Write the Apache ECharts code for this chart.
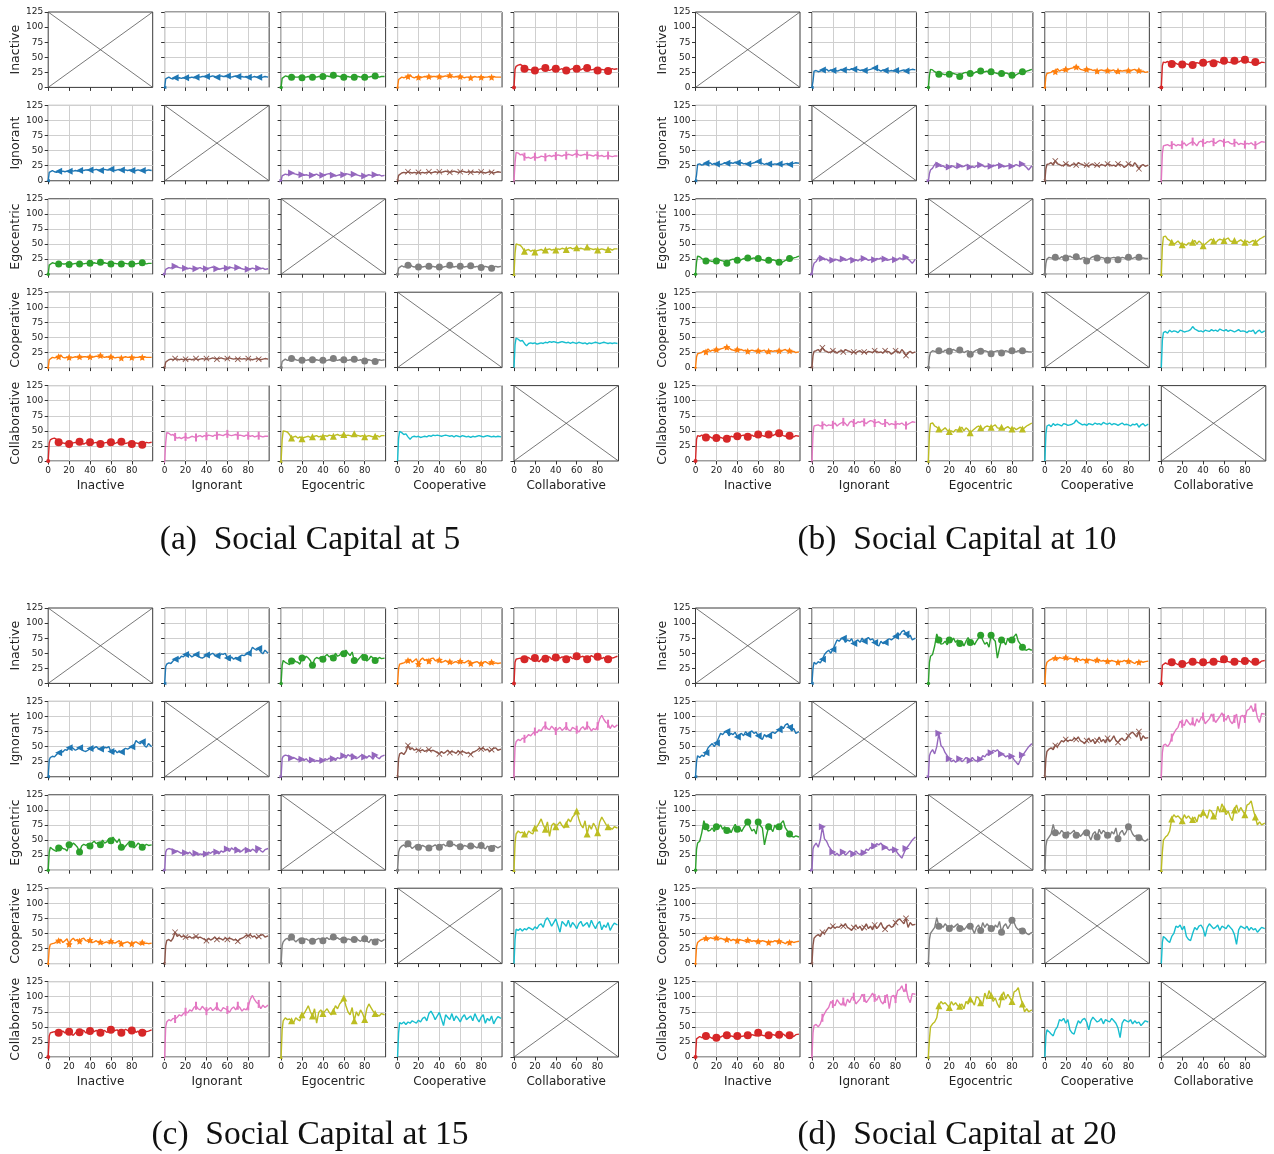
<!DOCTYPE html>
<html>
<head>
<meta charset="utf-8">
<script src="https://cdn.jsdelivr.net/npm/echarts@6/dist/echarts.min.js"></script>
<style>
  html, body { margin: 0; padding: 0; background: #fff; }
  #chart { width: 1274px; height: 1154px; }
</style>
</head>
<body>
<div id="chart"></div>
<script>
// roles on both axes of every 5x5 panel
const roles = ["Inactive", "Ignorant", "Egocentric", "Cooperative", "Collaborative"];
const captions = ["(a)  Social Capital at 5", "(b)  Social Capital at 10", "(c)  Social Capital at 15", "(d)  Social Capital at 20"];

// time steps the values were read at
const steps = [0, 1, 2, 4, 6, 8, 10, 12, 14, 16,
	18, 20, 22, 24, 26, 28, 30, 32, 34, 36,
	38, 40, 42, 44, 46, 48, 50, 52, 54, 56,
	58, 60, 62, 64, 66, 68, 70, 72, 74, 76,
	78, 80, 82, 84, 86, 88, 90, 92, 94, 96,
	99];
const xTicks = [0, 20, 40, 60, 80];

// ---- social capital 5 ----
const sc5_in_ig = [0, 14, 16, 17, 15, 14, 16, 15, 16, 15,
	16, 16, 17, 16, 17, 16, 17, 18, 17, 18,
	18, 18, 17, 18, 19, 18, 17, 18, 19, 18,
	18, 19, 18, 17, 18, 19, 18, 17, 18, 17,
	18, 17, 16, 17, 18, 17, 17, 16, 17, 18,
	17];
const sc5_in_eg = [0, 15, 18, 19, 18, 17, 17, 18, 17, 17,
	18, 16, 17, 17, 18, 17, 17, 18, 17, 18,
	18, 18, 18, 19, 18, 18, 20, 18, 19, 18,
	18, 17, 18, 18, 17, 18, 17, 18, 18, 17,
	18, 17, 18, 17, 18, 18, 19, 18, 17, 18,
	18];
const sc5_in_co = [0, 13, 16, 17, 16, 17, 18, 21, 17, 16,
	17, 17, 16, 17, 18, 17, 18, 17, 18, 18,
	17, 18, 17, 18, 19, 18, 20, 18, 17, 18,
	17, 18, 17, 16, 17, 17, 16, 17, 18, 17,
	17, 17, 16, 17, 17, 18, 17, 18, 17, 17,
	17];
const sc5_in_cl = [0, 30, 35, 37, 38, 36, 31, 29, 30, 29,
	30, 28, 29, 30, 31, 29, 32, 30, 28, 30,
	31, 31, 29, 30, 31, 28, 28, 29, 30, 31,
	30, 31, 30, 29, 31, 30, 32, 31, 29, 30,
	30, 28, 29, 30, 29, 30, 27, 29, 31, 30,
	31];
const sc5_ig_eg = [0, 8, 10, 11, 10, 12, 13, 12, 11, 10,
	11, 10, 9, 10, 9, 8, 9, 10, 11, 9,
	8, 9, 10, 11, 12, 10, 9, 8, 9, 10,
	9, 10, 12, 11, 10, 9, 11, 10, 9, 8,
	9, 8, 9, 10, 9, 8, 10, 9, 10, 8,
	9];
const sc5_ig_co = [0, 9, 12, 13, 14, 13, 15, 14, 13, 14,
	13, 14, 13, 14, 13, 14, 15, 13, 14, 15,
	14, 15, 14, 15, 16, 15, 14, 15, 16, 15,
	14, 15, 16, 15, 14, 15, 14, 15, 14, 15,
	14, 15, 14, 13, 14, 15, 14, 13, 14, 15,
	14];
const sc5_ig_cl = [0, 30, 47, 46, 43, 44, 40, 38, 39, 37,
	39, 40, 38, 39, 41, 40, 39, 41, 42, 40,
	42, 41, 43, 42, 41, 43, 42, 44, 43, 42,
	44, 45, 43, 42, 43, 44, 42, 43, 42, 41,
	43, 42, 41, 42, 40, 41, 42, 41, 40, 41,
	41];
const sc5_eg_co = [0, 10, 13, 14, 12, 13, 15, 16, 13, 12,
	13, 12, 13, 12, 13, 12, 13, 12, 13, 12,
	13, 12, 11, 12, 13, 12, 15, 13, 12, 13,
	12, 13, 13, 12, 13, 12, 14, 13, 12, 13,
	12, 11, 12, 13, 12, 11, 10, 12, 13, 12,
	13];
const sc5_eg_cl = [0, 35, 50, 49, 48, 44, 38, 40, 41, 38,
	40, 37, 39, 40, 41, 39, 40, 41, 42, 40,
	41, 40, 42, 41, 43, 42, 41, 43, 44, 42,
	43, 44, 42, 43, 42, 41, 45, 43, 42, 41,
	42, 40, 41, 42, 41, 40, 41, 42, 40, 42,
	42];
const sc5_co_cl = [0, 38, 49, 47, 44, 45, 40, 36, 40, 41,
	40, 41, 39, 40, 41, 40, 42, 41, 43, 42,
	43, 42, 41, 42, 43, 42, 41, 42, 40, 42,
	41, 40, 42, 41, 40, 41, 39, 41, 40, 41,
	42, 41, 40, 41, 42, 41, 40, 41, 40, 41,
	40];

// ---- social capital 10 ----
const sc10_in_ig = [0, 10, 27, 28, 26, 27, 29, 28, 30, 27,
	29, 28, 29, 27, 28, 30, 29, 28, 30, 29,
	31, 30, 29, 30, 28, 29, 28, 27, 29, 30,
	31, 32, 30, 29, 27, 29, 28, 29, 27, 28,
	27, 28, 26, 27, 28, 29, 27, 28, 29, 30,
	29];
const sc10_in_eg = [0, 20, 30, 29, 26, 24, 22, 23, 22, 21,
	23, 22, 24, 23, 22, 21, 18, 22, 24, 25,
	24, 23, 22, 24, 26, 25, 27, 25, 26, 27,
	25, 26, 25, 24, 23, 22, 23, 22, 24, 23,
	21, 20, 18, 21, 23, 24, 26, 25, 27, 28,
	30];
const sc10_in_co = [0, 18, 23, 24, 25, 28, 26, 31, 27, 29,
	28, 30, 29, 31, 32, 33, 34, 33, 30, 29,
	28, 30, 29, 30, 28, 29, 27, 28, 29, 28,
	27, 28, 27, 28, 29, 24, 27, 28, 27, 28,
	27, 28, 27, 29, 30, 27, 28, 26, 27, 25,
	26];
const sc10_in_cl = [0, 36, 42, 41, 43, 40, 39, 41, 40, 38,
	39, 38, 40, 39, 38, 36, 37, 39, 41, 40,
	42, 41, 40, 42, 43, 41, 40, 42, 43, 41,
	42, 44, 43, 42, 41, 43, 44, 43, 42, 44,
	45, 46, 44, 42, 41, 43, 42, 41, 40, 42,
	41];
const sc10_ig_eg = [0, 12, 18, 21, 27, 30, 26, 24, 25, 22,
	24, 23, 25, 24, 22, 24, 25, 23, 24, 26,
	25, 23, 24, 22, 25, 24, 26, 25, 23, 24,
	25, 24, 26, 25, 27, 24, 25, 23, 24, 25,
	26, 24, 25, 27, 25, 26, 28, 25, 22, 18,
	25];
const sc10_ig_co = [0, 20, 27, 28, 30, 26, 33, 28, 27, 25,
	26, 28, 27, 24, 27, 28, 26, 30, 28, 27,
	25, 26, 24, 27, 28, 25, 26, 24, 27, 26,
	25, 28, 27, 25, 26, 24, 28, 27, 26, 22,
	25, 28, 27, 24, 30, 26, 20, 25, 27, 24,
	26];
const sc10_ig_cl = [0, 45, 58, 59, 60, 58, 59, 61, 58, 60,
	59, 60, 63, 58, 61, 63, 65, 62, 58, 64,
	66, 63, 62, 65, 64, 66, 64, 62, 65, 67,
	66, 63, 64, 65, 62, 61, 63, 64, 60, 62,
	61, 60, 62, 61, 63, 60, 59, 61, 63, 65,
	64];
const sc10_eg_co = [0, 18, 25, 28, 27, 26, 28, 27, 26, 29,
	28, 27, 29, 30, 28, 27, 29, 28, 25, 27,
	28, 22, 24, 27, 29, 30, 27, 26, 28, 27,
	25, 23, 26, 27, 28, 27, 24, 26, 28, 27,
	25, 28, 27, 26, 28, 27, 28, 26, 27, 26,
	26];
const sc10_eg_cl = [0, 45, 62, 63, 58, 56, 53, 50, 52, 55,
	51, 49, 50, 48, 52, 51, 53, 56, 50, 55,
	52, 47, 50, 53, 56, 58, 55, 52, 56, 58,
	57, 56, 58, 60, 55, 54, 56, 52, 55, 57,
	54, 53, 55, 52, 54, 56, 53, 55, 58, 60,
	63];
const sc10_co_cl = [0, 45, 58, 60, 57, 62, 59, 61, 60, 58,
	62, 61, 59, 60, 61, 63, 68, 64, 62, 60,
	61, 59, 62, 61, 60, 63, 61, 62, 60, 64,
	62, 61, 63, 60, 62, 61, 59, 61, 63, 60,
	61, 60, 58, 61, 60, 62, 56, 60, 62, 58,
	61];

// ---- social capital 15 ----
const sc15_in_ig = [0, 28, 32, 34, 33, 37, 40, 43, 41, 45,
	44, 48, 50, 47, 44, 46, 48, 45, 43, 42,
	44, 47, 45, 48, 50, 47, 46, 44, 49, 48,
	50, 42, 38, 44, 40, 43, 41, 45, 47, 46,
	48, 50, 52, 60, 57, 55, 58, 52, 49, 55,
	50];
const sc15_in_eg = [0, 30, 38, 35, 33, 31, 37, 40, 36, 35,
	32, 42, 40, 45, 42, 38, 30, 40, 43, 41,
	44, 40, 45, 48, 44, 46, 42, 50, 45, 47,
	52, 49, 55, 50, 46, 52, 38, 36, 40, 44,
	48, 43, 37, 40, 45, 42, 38, 40, 43, 41,
	42];
const sc15_in_co = [0, 25, 32, 33, 34, 36, 38, 40, 35, 38,
	41, 32, 39, 42, 38, 40, 37, 41, 42, 38,
	37, 39, 35, 36, 38, 35, 36, 33, 35, 36,
	34, 37, 35, 34, 36, 38, 33, 34, 35, 36,
	34, 33, 35, 36, 34, 32, 35, 33, 34, 33,
	34];
const sc15_in_cl = [0, 35, 40, 41, 42, 41, 40, 42, 43, 40,
	41, 42, 38, 36, 40, 42, 41, 43, 44, 40,
	41, 43, 45, 42, 44, 43, 40, 42, 44, 41,
	42, 45, 43, 44, 45, 42, 40, 43, 46, 44,
	43, 44, 45, 41, 43, 38, 40, 44, 42, 43,
	45];
const sc15_ig_eg = [0, 30, 34, 36, 35, 33, 31, 32, 30, 28,
	31, 29, 27, 30, 26, 24, 28, 25, 27, 26,
	29, 27, 30, 28, 31, 29, 30, 27, 32, 30,
	33, 35, 31, 37, 34, 38, 33, 30, 32, 35,
	36, 33, 31, 35, 33, 29, 36, 32, 30, 34,
	36];
const sc15_ig_co = [0, 30, 38, 40, 37, 42, 52, 45, 48, 44,
	46, 44, 43, 45, 42, 44, 45, 43, 44, 42,
	40, 38, 42, 39, 41, 44, 40, 42, 41, 39,
	43, 40, 42, 41, 39, 40, 37, 41, 42, 44,
	47, 46, 48, 44, 46, 42, 45, 47, 48, 44,
	46];
const sc15_ig_cl = [0, 50, 58, 62, 60, 64, 63, 66, 70, 68,
	72, 75, 73, 78, 76, 82, 85, 80, 78, 84,
	80, 76, 79, 82, 77, 80, 84, 78, 76, 82,
	80, 78, 74, 80, 83, 78, 85, 82, 76, 80,
	78, 84, 96, 102, 95, 90, 88, 80, 86, 82,
	86];
const sc15_eg_co = [0, 30, 36, 40, 42, 38, 44, 40, 36, 39,
	42, 38, 40, 41, 39, 38, 37, 39, 40, 42,
	39, 38, 41, 43, 40, 42, 44, 41, 43, 40,
	42, 39, 38, 41, 40, 38, 40, 42, 39, 37,
	40, 41, 38, 35, 40, 38, 36, 41, 39, 37,
	40];
const sc15_eg_cl = [0, 45, 60, 65, 62, 63, 60, 57, 65, 62,
	60, 70, 72, 78, 85, 75, 68, 80, 56, 74,
	78, 72, 76, 80, 74, 70, 76, 85, 80, 88,
	92, 98, 85, 75, 70, 82, 60, 75, 68, 78,
	72, 62, 80, 88, 82, 76, 72, 70, 68, 72,
	70];
const sc15_co_cl = [0, 40, 57, 55, 58, 54, 58, 56, 60, 58,
	56, 61, 58, 64, 66, 60, 72, 76, 70, 62,
	68, 74, 63, 52, 70, 66, 62, 72, 60, 68,
	64, 58, 66, 70, 62, 65, 68, 60, 72, 64,
	58, 66, 70, 56, 64, 60, 68, 55, 62, 67,
	64];

// ---- social capital 20 ----
const sc20_in_ig = [0, 25, 35, 32, 36, 34, 40, 48, 52, 55,
	50, 56, 64, 72, 70, 74, 75, 68, 72, 70,
	74, 66, 70, 72, 68, 75, 70, 74, 76, 72,
	74, 68, 64, 62, 70, 66, 68, 72, 74, 72,
	75, 78, 84, 80, 86, 88, 82, 76, 80, 72,
	75];
const sc20_in_eg = [0, 35, 45, 48, 62, 82, 72, 65, 66, 70,
	64, 72, 70, 75, 68, 72, 66, 70, 62, 70,
	76, 68, 72, 64, 70, 75, 80, 72, 65, 68,
	60, 80, 74, 70, 42, 58, 72, 70, 64, 75,
	68, 72, 78, 82, 70, 65, 60, 56, 55, 57,
	55];
const sc20_in_co = [0, 28, 35, 38, 40, 41, 42, 40, 43, 42,
	41, 43, 40, 42, 41, 39, 40, 41, 38, 40,
	39, 38, 40, 39, 38, 37, 39, 38, 37, 38,
	36, 37, 36, 38, 37, 36, 35, 37, 36, 38,
	36, 37, 36, 35, 33, 36, 35, 37, 35, 36,
	37];
const sc20_in_cl = [0, 30, 33, 34, 32, 33, 35, 34, 33, 31,
	33, 32, 34, 33, 35, 34, 36, 33, 35, 34,
	33, 35, 36, 34, 35, 34, 36, 35, 37, 36,
	35, 40, 37, 36, 35, 37, 36, 38, 37, 36,
	35, 37, 36, 38, 35, 34, 36, 35, 34, 37,
	38];
const sc20_ig_eg = [0, 35, 40, 45, 38, 50, 72, 52, 48, 40,
	35, 30, 25, 28, 24, 27, 30, 25, 28, 32,
	30, 27, 32, 28, 26, 30, 29, 35, 33, 38,
	36, 40, 44, 42, 45, 40, 38, 36, 33, 35,
	30, 34, 28, 24, 20, 28, 36, 40, 45, 50,
	55];
const sc20_ig_co = [0, 30, 42, 46, 48, 45, 52, 50, 55, 60,
	58, 62, 59, 61, 60, 64, 62, 66, 60, 58,
	55, 60, 64, 58, 62, 55, 60, 66, 58, 62,
	56, 64, 58, 62, 68, 60, 57, 62, 64, 60,
	62, 68, 72, 74, 70, 66, 75, 60, 68, 64,
	65];
const sc20_ig_cl = [0, 40, 52, 54, 50, 55, 65, 72, 78, 82,
	92, 88, 85, 95, 90, 86, 92, 84, 96, 90,
	98, 100, 88, 92, 96, 104, 98, 90, 95, 100,
	106, 98, 94, 102, 92, 88, 96, 104, 80, 100,
	102, 96, 110, 112, 118, 108, 115, 98, 90, 105,
	104];
const sc20_eg_co = [0, 40, 50, 55, 60, 76, 62, 64, 60, 66,
	62, 58, 64, 60, 63, 66, 58, 62, 56, 60,
	65, 62, 58, 50, 60, 64, 55, 68, 60, 66,
	62, 58, 54, 64, 60, 70, 52, 62, 66, 58,
	64, 72, 68, 60, 56, 58, 54, 55, 50, 48,
	52];
const sc20_eg_cl = [0, 30, 50, 55, 58, 65, 85, 92, 88, 90,
	86, 82, 92, 86, 90, 85, 84, 88, 80, 92,
	88, 96, 92, 86, 100, 98, 90, 88, 106, 96,
	110, 102, 92, 98, 88, 82, 100, 108, 96, 104,
	98, 92, 108, 110, 115, 100, 88, 75, 80, 75,
	78];
const sc20_co_cl = [0, 35, 45, 42, 38, 35, 45, 50, 62, 60,
	64, 56, 62, 45, 40, 38, 50, 60, 56, 62,
	64, 58, 45, 60, 66, 62, 58, 60, 64, 55,
	62, 60, 58, 64, 60, 56, 48, 32, 56, 62,
	60, 58, 62, 55, 60, 56, 58, 52, 56, 60,
	58];

// pair order: (row, col) index pairs, upper triangle; the matrix is symmetric
const pairKeys = ["0-1", "0-2", "0-3", "0-4", "1-2", "1-3", "1-4", "2-3", "2-4", "3-4"];
const panelValues = [
	[sc5_in_ig, sc5_in_eg, sc5_in_co, sc5_in_cl, sc5_ig_eg, sc5_ig_co, sc5_ig_cl, sc5_eg_co, sc5_eg_cl, sc5_co_cl],
	[sc10_in_ig, sc10_in_eg, sc10_in_co, sc10_in_cl, sc10_ig_eg, sc10_ig_co, sc10_ig_cl, sc10_eg_co, sc10_eg_cl, sc10_co_cl],
	[sc15_in_ig, sc15_in_eg, sc15_in_co, sc15_in_cl, sc15_ig_eg, sc15_ig_co, sc15_ig_cl, sc15_eg_co, sc15_eg_cl, sc15_co_cl],
	[sc20_in_ig, sc20_in_eg, sc20_in_co, sc20_in_cl, sc20_ig_eg, sc20_ig_co, sc20_ig_cl, sc20_eg_co, sc20_eg_cl, sc20_co_cl],
];

const pairColors = ["#1f77b4", "#2ca02c", "#ff7f0e", "#d62728", "#9467bd", "#8c564b", "#e377c2", "#7f7f7f", "#bcbd22", "#17becf"];
const STAR = "path://M0,-10L2.9,-4L9.5,-3.1L4.7,1.5L5.9,8.1L0,5L-5.9,8.1L-4.7,1.5L-9.5,-3.1L-2.9,-4Z";
const CROSS = "path://M1,0L5,4L9,0L10,1L6,5L10,9L9,10L5,6L1,10L0,9L4,5L0,1Z";
const VBAR = "path://M4,0L6,0L6,10L4,10Z";
const pairMarkers = [
	{ symbol: "triangle", size: 7, rotate: 90 },
	{ symbol: "circle", size: 7, rotate: 0 },
	{ symbol: STAR, size: 7, rotate: 0 },
	{ symbol: "circle", size: 8, rotate: 0 },
	{ symbol: "triangle", size: 7, rotate: -90 },
	{ symbol: CROSS, size: 6, rotate: 0 },
	{ symbol: VBAR, size: [2, 8], rotate: 0 },
	{ symbol: "circle", size: 7, rotate: 0 },
	{ symbol: "triangle", size: 7, rotate: 0 },
	{ symbol: "none", size: 0, rotate: 0 },
];

// layout (px)
const panelOrigins = [[48.2, 12], [695.5, 12], [48.2, 608], [695.5, 608]];
const captionPos = [[310, 540], [957, 540], [310, 1135], [957, 1135]];
const pitchX = 116.45;
const pitchY = 93.4;
const cellW = 104.5;
const cellH = 75.4;
const xMax = 100;
const yMax = 125;
const FONT = "DejaVu Sans";

const chart = echarts.init(document.getElementById("chart"), null, { renderer: "canvas" });

const option = {
	animation : false,
	grid      : [],
	xAxis     : [],
	yAxis     : [],
	series    : [],
	graphic   : [],
};

panelOrigins.forEach(([ox, oy], p) => {
	for (let r = 0; r < 5; r++)
		for (let c = 0; c < 5; c++) {
			const gi = option.grid.length;
			const diag = r == c;

			option.grid.push({
				left            : ox + c * pitchX,
				top             : oy + r * pitchY,
				width           : cellW,
				height          : cellH,
				show            : true,
				backgroundColor : "#fff",
				borderColor     : "#3a3a3a",
				borderWidth     : 1,
			});

			option.xAxis.push({
				type          : "value",
				gridIndex     : gi,
				min           : 0,
				max           : xMax,
				interval      : 20,
				axisLine      : { show: false },
				axisTick      : { show: true, length: 3.5, customValues: xTicks, lineStyle: { color: "#333", width: 1 } },
				axisLabel     : { show: r == 4, customValues: xTicks, fontSize: 9, margin: 5, color: "#222", fontFamily: FONT },
				splitLine     : { show: !diag, lineStyle: { color: "#cfcfcf", width: 1 } },
				name          : r == 4 ? roles[c] : "",
				nameLocation  : "middle",
				nameGap       : 19,
				nameTextStyle : { fontSize: 12, color: "#222", fontFamily: FONT },
			});

			option.yAxis.push({
				type          : "value",
				gridIndex     : gi,
				min           : 0,
				max           : yMax,
				interval      : 25,
				axisLine      : { show: false },
				axisTick      : { show: true, length: 3.5, lineStyle: { color: "#333", width: 1 } },
				axisLabel     : { show: c == 0, fontSize: 9, margin: 5, color: "#222", fontFamily: FONT },
				splitLine     : { show: !diag, lineStyle: { color: "#cfcfcf", width: 1 } },
				name          : c == 0 ? roles[r] : "",
				nameLocation  : "middle",
				nameGap       : 25,
				nameTextStyle : { fontSize: 12.5, color: "#222", fontFamily: FONT },
			});

			if (diag) {
				// empty self-pair: crossed out corner to corner
				[[[0, 0], [xMax, yMax]], [[0, yMax], [xMax, 0]]].forEach((seg) => {
					option.series.push({
						type       : "line",
						xAxisIndex : gi,
						yAxisIndex : gi,
						data       : seg,
						symbol     : "none",
						silent     : true,
						lineStyle  : { color: "#555", width: 0.8 },
					});
				});
				continue;
			}

			const pi = pairKeys.indexOf(`${Math.min(r, c)}-${Math.max(r, c)}`);
			const vals = panelValues[p][pi];
			const mk = pairMarkers[pi];
			const color = pairColors[pi];
			// the first marker sits on the frame corner, keep it small like a clipped one
			const cornerSize = Array.isArray(mk.size) ? [1, 4] : mk.size / 2;

			option.series.push({
				type         : "line",
				xAxisIndex   : gi,
				yAxisIndex   : gi,
				silent       : true,
				showSymbol   : mk.symbol != "none",
				symbol       : mk.symbol,
				symbolSize   : mk.size,
				symbolRotate : mk.rotate,
				itemStyle    : { color: color, borderWidth: 0 },
				lineStyle    : { color: color, width: 1.4 },
				data         : steps.map((x, k) => {
					if (x == 0)
						return { value: [x, vals[k]], symbolSize: cornerSize };
					if (x % 10 == 0)
						return { value: [x, vals[k]] };
					return { value: [x, vals[k]], symbol: "none" };
				}),
			});
		}

	option.graphic.push({
		type  : "text",
		x     : captionPos[p][0],
		y     : captionPos[p][1],
		style : {
			text              : captions[p],
			font              : "33.5px \"Liberation Serif\"",
			fill              : "#111",
			textAlign         : "center",
			textVerticalAlign : "middle",
			align             : "center",
			verticalAlign     : "middle",
		},
	});
});

chart.setOption(option);
</script>
</body>
</html>
